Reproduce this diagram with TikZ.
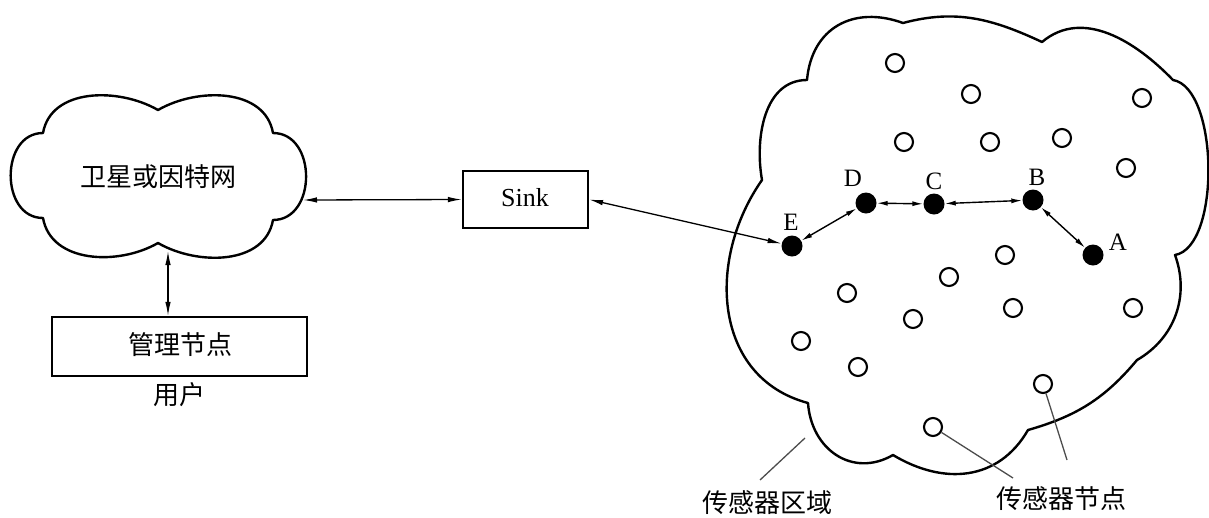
\documentclass[tikz,border=0pt]{standalone}
\usepackage{fontspec}
\setmainfont{Liberation Serif}
\newfontfamily\cjk{Noto Sans CJK SC}
\usetikzlibrary{arrows.meta}
\begin{document}
\begin{tikzpicture}[x=1pt,y=1pt,
  cloudline/.style={line width=2.4pt, line join=round},
  sensor/.style={circle, draw, line width=2.1pt, minimum size=18pt, inner sep=0pt, fill=white},
  active/.style={circle, fill=black, minimum size=21pt, inner sep=0pt},
  box/.style={draw, line width=2.2pt, inner sep=0pt},
  link/.style={line width=1.4pt, {Latex[length=11pt,width=5pt]}-{Latex[length=11pt,width=5pt]}},
  biglink/.style={line width=1.3pt, {Latex[length=14pt,width=5.5pt]}-{Latex[length=14pt,width=5.5pt]}},
  leader/.style={line width=1.3pt, draw=black!70},
  cjklabel/.style={font=\cjk\fontsize{26}{30}\selectfont, inner sep=0pt},
  letter/.style={font=\fontsize{25}{28}\selectfont, inner sep=0pt}]
\useasboundingbox (0,0) rectangle (1209,-517);

% left cloud
\draw[cloudline] (43,-133) to[out=80,in=150] (158,-110) to[out=30,in=100] (273,-133)
  to[out=0,in=0,looseness=1.3] (273,-220) to[out=-100,in=-30] (158,-243)
  to[out=-150,in=-80] (43,-218) to[out=180,in=180,looseness=1.3] (43,-133) -- cycle;
\node[cjklabel] (net) at (158,-177) {卫星或因特网};
\coordinate (cloudR) at (303,-200);
\coordinate (cloudB) at (168,-251);

% management node
\node[box, minimum width=255pt, minimum height=59pt] (mgmt) at (179.5,-346.5) {};
\node[cjklabel] (mgmtT) at (180,-345) {管理节点};
\node[cjklabel] (user) at (179,-395) {用户};

% sink
\node[box, minimum width=125pt, minimum height=57pt] (sink) at (525.5,-199.5) {};
\node[font=\fontsize{26}{30}\selectfont, inner sep=0pt] (sinkT) at (525,-198) {Sink};

% right cloud
\draw[cloudline] (808,-403) to[out=165,in=235,looseness=1.1] (762,-180)
  to[out=100,in=180] (807,-80) to[out=85,in=160,looseness=1.2] (903,-23)
  to[out=15,in=155] (1042,-42) to[out=40,in=134] (1173,-80)
  to[out=-10,in=10,looseness=0.68] (1175,-255) to[out=-70,in=30] (1137,-360)
  to[out=-130,in=16] (1028,-430) to[out=-120,in=-31,looseness=1.1] (893,-455)
  to[out=-150,in=-86,looseness=1.2] (808,-403) -- cycle;

% sensors
\foreach \n/\x/\y in {s1/895/63, s2/971/94, s3/1142/98, s4/904/142, s5/990/142,
  s6/1062/138, s7/1126/168, s8/1005/255, s9/949/277, s10/847/293, s11/913/319,
  s12/1013/308, s13/1133/308, s14/801/341, s15/858/367, s16/1043/384, s17/933/427}
  \node[sensor] (\n) at (\x,-\y) {};

% active route
\node[active] (E) at (792,-246) {};
\node[active] (D) at (866,-203) {};
\node[active] (C) at (934,-204) {};
\node[active] (B) at (1033,-200) {};
\node[active] (A) at (1093,-255) {};
\node[letter] (lE) at (791,-222) {E};
\node[letter] (lD) at (853,-178) {D};
\node[letter] (lC) at (934,-181) {C};
\node[letter] (lB) at (1037,-177) {B};
\node[letter] (lA) at (1118,-242) {A};

\draw[link] (E) -- (D);
\draw[link] (D) -- (C);
\draw[link] (C) -- (B);
\draw[link] (B) -- (A);

% connections
\draw[biglink] (cloudR) -- (sink.west);
\draw[biglink] (sink.east) -- (E);
\draw[biglink] (cloudB) -- (cloudB |- mgmt.north);

% labels and leaders
\node[cjklabel] (region) at (767,-503) {传感器区域};
\node[cjklabel] (sensors) at (1061,-499) {传感器节点};
\coordinate (r0) at (760,-480);
\coordinate (r1) at (805,-438);
\coordinate (n1) at (1013,-478);
\coordinate (n2) at (1067,-460);
\draw[leader] (r0) -- (r1);
\draw[leader] (s17) -- (n1);
\draw[leader] (s16) -- (n2);
\end{tikzpicture}
\end{document}
